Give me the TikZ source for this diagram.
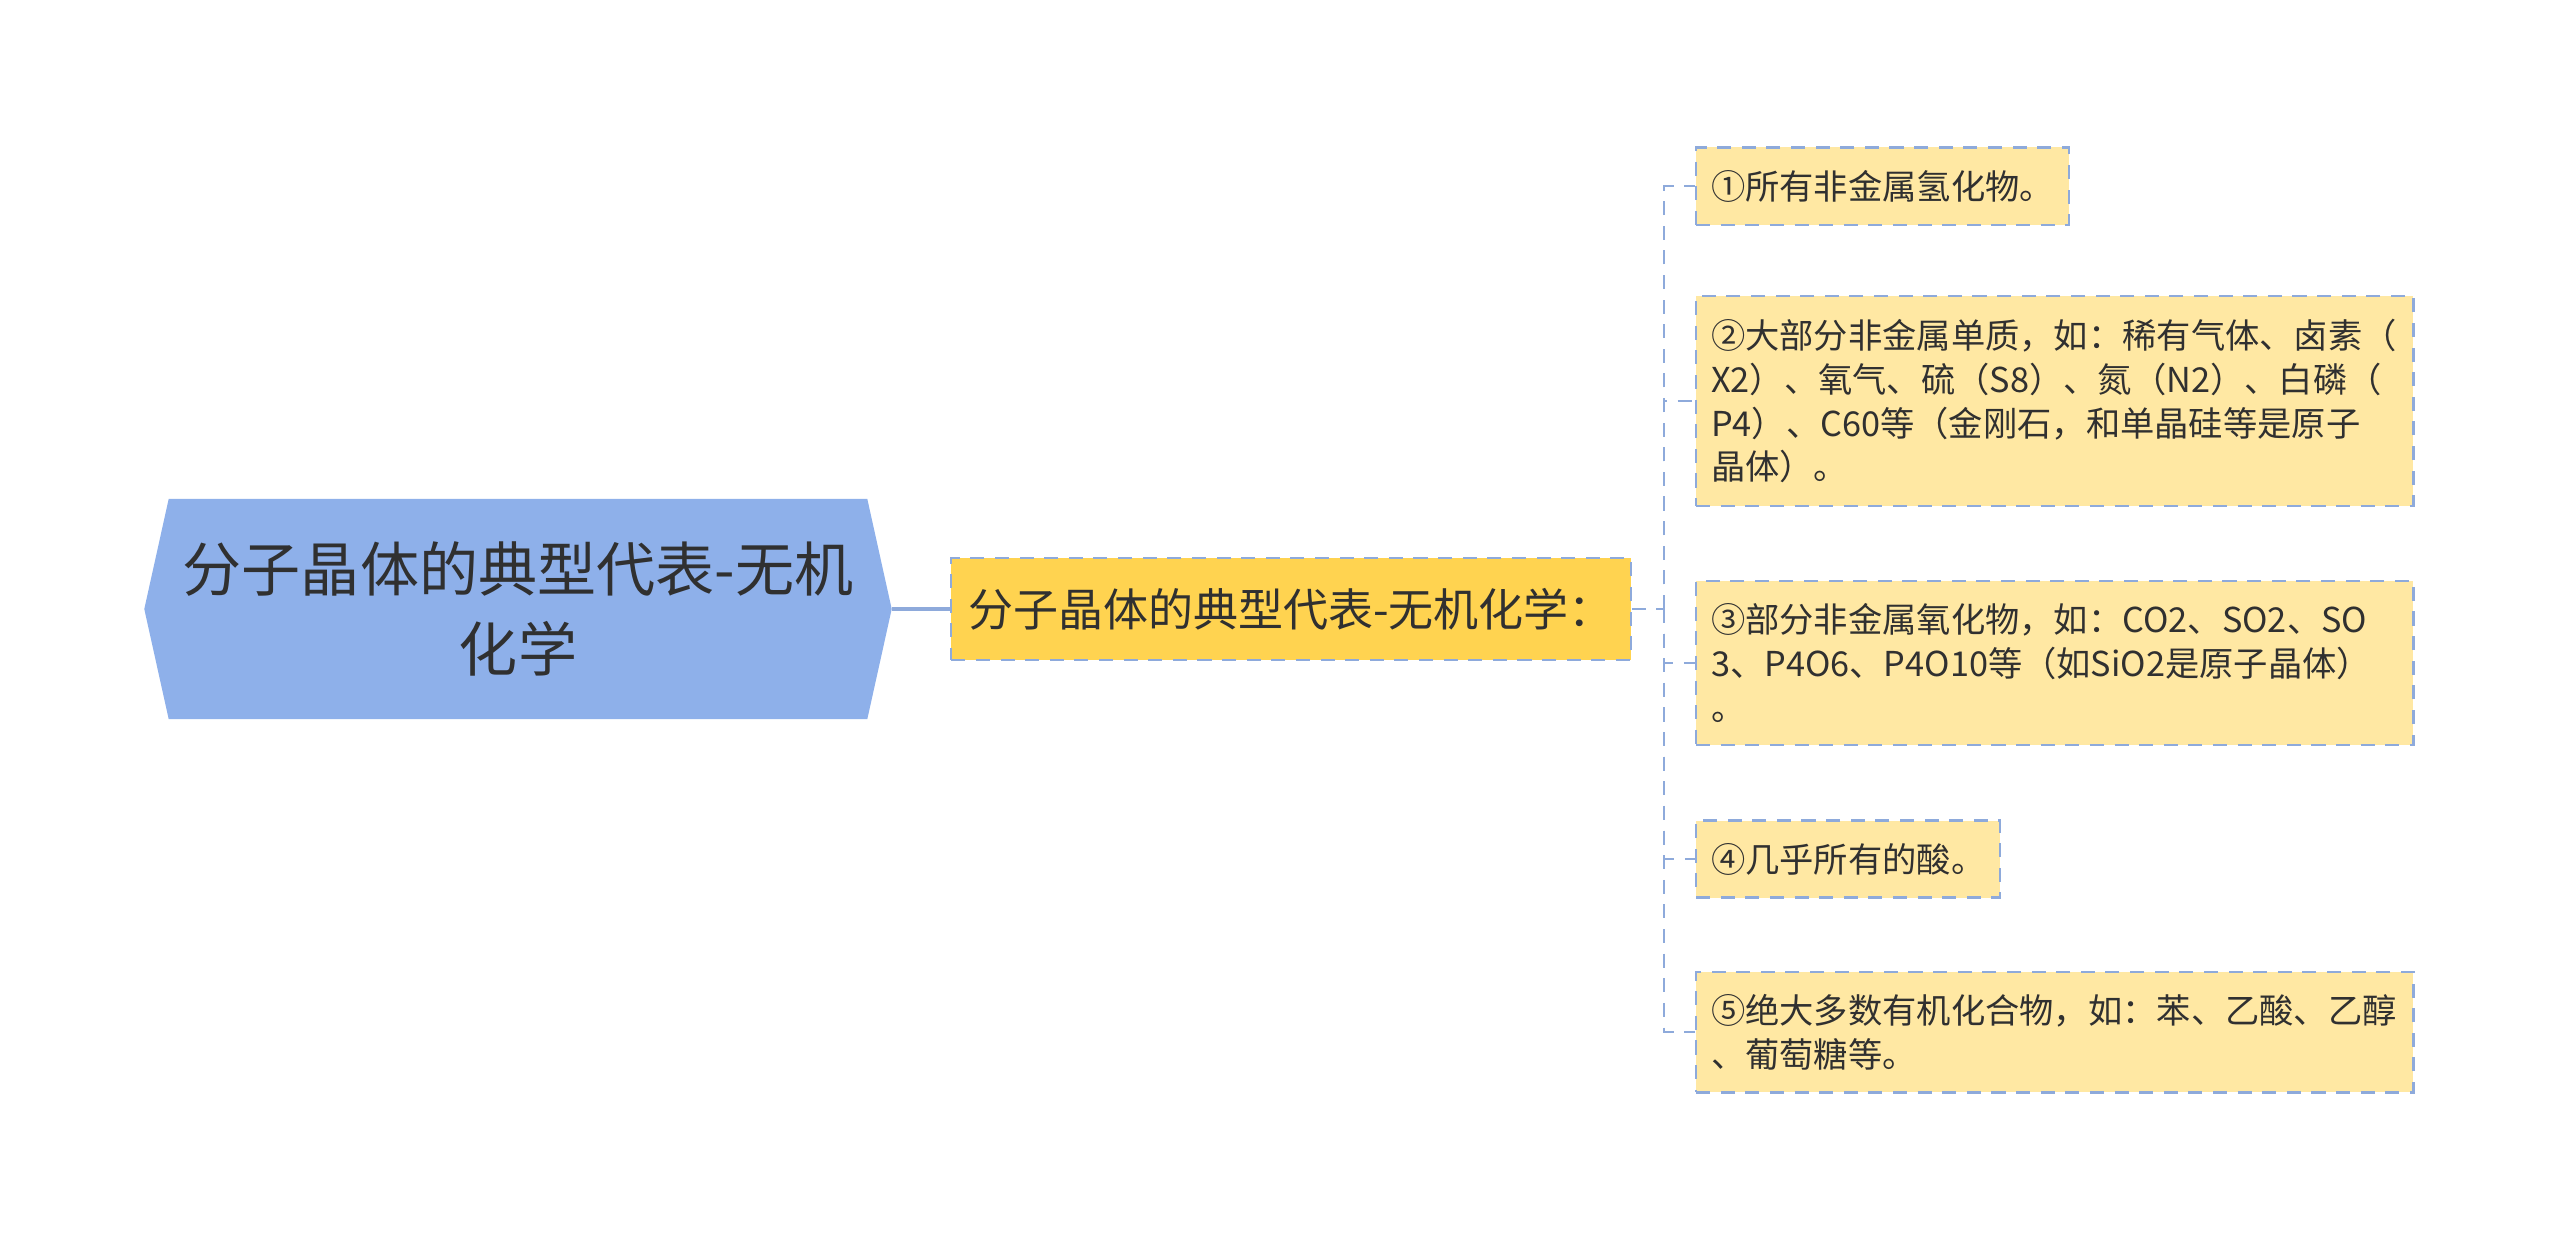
\documentclass[tikz,border=0pt]{standalone}
\usepackage{fontspec}
\setmainfont{Noto Sans CJK SC}
\usetikzlibrary{shapes.symbols}
\definecolor{rootblue}{RGB}{142,176,234}
\definecolor{maingold}{RGB}{255,211,80}
\definecolor{leafyellow}{RGB}{255,232,163}
\definecolor{edgeblue}{RGB}{142,170,219}
\definecolor{textgray}{RGB}{48,48,48}

\begin{document}
\begin{tikzpicture}[x = .01cm, y = -.01cm,
    leaf/.style = {draw=edgeblue, line width=.6pt, dash pattern=on 4pt off 3pt,
      fill=leafyellow, text=textgray, align=left, anchor=west,
      inner xsep=.15cm, inner ysep=.225cm, font=\fontsize{9.75}{12.5}\selectfont},
    link/.style = {draw=edgeblue, line width=.6pt, dash pattern=on 4pt off 3pt}]
        \useasboundingbox (0,0) rectangle (2560,1241);
        \node[signal, signal to=west and east, signal pointer angle=155, fill=rootblue,
          minimum width=7.47cm, minimum height=2.2cm, align=center, text=textgray,
          font=\fontsize{16.8}{22.8}\selectfont] (root) at (518,609) {分子晶体的典型代表-无机\\化学};
        \node[draw=edgeblue, line width=.6pt, dash pattern=on 4pt off 3pt, fill=maingold,
          minimum width=6.79cm, minimum height=1.02cm, text=textgray,
          font=\fontsize{12.8}{15}\selectfont] (main) at (1291,609) {分子晶体的典型代表-无机化学：};
        \draw[edgeblue, line width=1pt] (root.east) -- (main.west);
        % the five kinds
        \node[leaf] (kind1) at (1695,186) {①所有非金属氢化物。};
        \node[leaf, text width=6.87cm] (kind2) at (1695,401) {②大部分非金属单质，如：稀有气体、卤素（\\X2）、氧气、硫（S8）、氮（N2）、白磷（\\P4）、C60等（金刚石，和单晶硅等是原子\\晶体）。};
        \node[leaf, text width=6.87cm] (kind3) at (1695,663) {③部分非金属氧化物，如：CO2、SO2、SO\\3、P4O6、P4O10等（如SiO2是原子晶体）\\。};
        \node[leaf] (kind4) at (1695,859) {④几乎所有的酸。};
        \node[leaf, text width=6.87cm] (kind5) at (1695,1032) {⑤绝大多数有机化合物，如：苯、乙酸、乙醇\\、葡萄糖等。};
        \coordinate (fork) at (1664,609);
        \draw[link] (main.east) -- (fork);
        \foreach \k in {kind1,kind2,kind3,kind4,kind5}
          \draw[link] (fork) |- (\k.west);
      \end{tikzpicture}
\end{document}
